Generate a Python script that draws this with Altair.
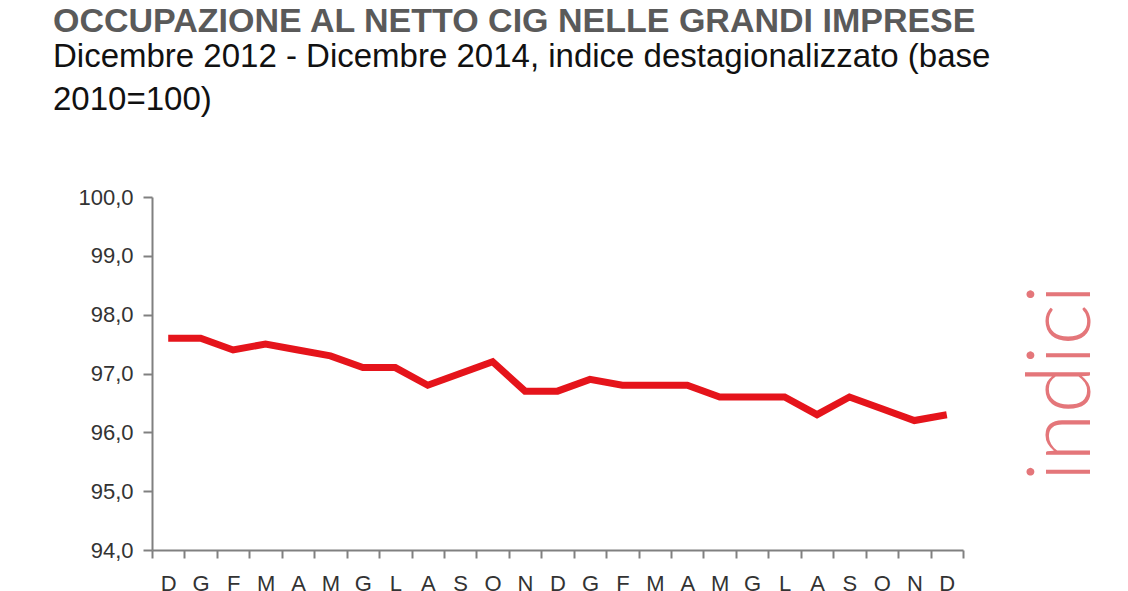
import altair as alt
import pandas as pd

# ---- data ----
months = ["D", "G", "F", "M", "A", "M", "G", "L", "A", "S", "O", "N",
          "D", "G", "F", "M", "A", "M", "G", "L", "A", "S", "O", "N", "D"]
values = [97.6, 97.6, 97.4, 97.5, 97.4, 97.3, 97.1, 97.1, 96.8, 97.0, 97.2, 96.7,
          96.7, 96.9, 96.8, 96.8, 96.8, 96.6, 96.6, 96.6, 96.3, 96.6, 96.4, 96.2, 96.3]
y_ticks = [94, 95, 96, 97, 98, 99, 100]
side_label = ["indici"]

title_text = "OCCUPAZIONE AL NETTO CIG NELLE GRANDI IMPRESE"
subtitle_lines = ["Dicembre 2012 - Dicembre 2014, indice destagionalizzato (base",
                  "2010=100)"]

df = pd.DataFrame({
    "key": [f"{i:02d}{m}" for i, m in enumerate(months)],
    "value": values,
})

FONT = "Liberation Sans"
AXIS_GRAY = "#808080"

line = alt.Chart(df).mark_line(color="#e5141b", strokeWidth=7).encode(
    x=alt.X(
        "key:O", sort=None,
        scale=alt.Scale(type="band", paddingInner=0, paddingOuter=0),
        axis=alt.Axis(
            title=None,
            labelExpr="isString(datum.value) ? substring(datum.value, 2) : ''",
            labelAngle=0,
            tickBand="extent", tickSize=8, tickWidth=2, tickColor=AXIS_GRAY,
            domainColor=AXIS_GRAY, domainWidth=2, labelFont=FONT,
            labelFontSize=22, labelColor="#333333", labelPadding=15, grid=False,
        ),
    ),
    y=alt.Y(
        "value:Q",
        scale=alt.Scale(domain=[94, 100], nice=False, zero=False),
        axis=alt.Axis(
            title=None, values=y_ticks,
            labelExpr="replace(format(datum.value, '.1f'), '.', ',')",
            tickSize=9, tickWidth=2, tickColor=AXIS_GRAY,
            domainColor=AXIS_GRAY, domainWidth=2, labelFont=FONT,
            labelFontSize=22, labelColor="#333333", labelPadding=10, grid=False,
        ),
    ),
)

side = alt.Chart(pd.DataFrame({"t": side_label})).mark_text(
    angle=270, font="Lato", fontWeight=300, fontSize=88, color="#e4767a",
    align="center", baseline="alphabetic",
).encode(text="t:N", x=alt.value(938), y=alt.value(186))

chart = alt.layer(line, side).properties(
    width=811, height=353,
    autosize=alt.AutoSizeParams(type="none"),
    padding={"left": 144, "top": 189, "right": 157, "bottom": 41},
    title=alt.TitleParams(
        text=title_text, subtitle=subtitle_lines,
        anchor="start", frame="group", dx=-99, offset=69,
        font=FONT, fontSize=34, fontWeight="bold", color="#5a5a5a",
        subtitleFont=FONT, subtitleFontSize=33, subtitleColor="#111111",
        subtitleLineHeight=43, subtitlePadding=2,
    ),
).configure_view(stroke=None)

chart.save("out.html", embed_options={"renderer": "svg", "actions": False})
